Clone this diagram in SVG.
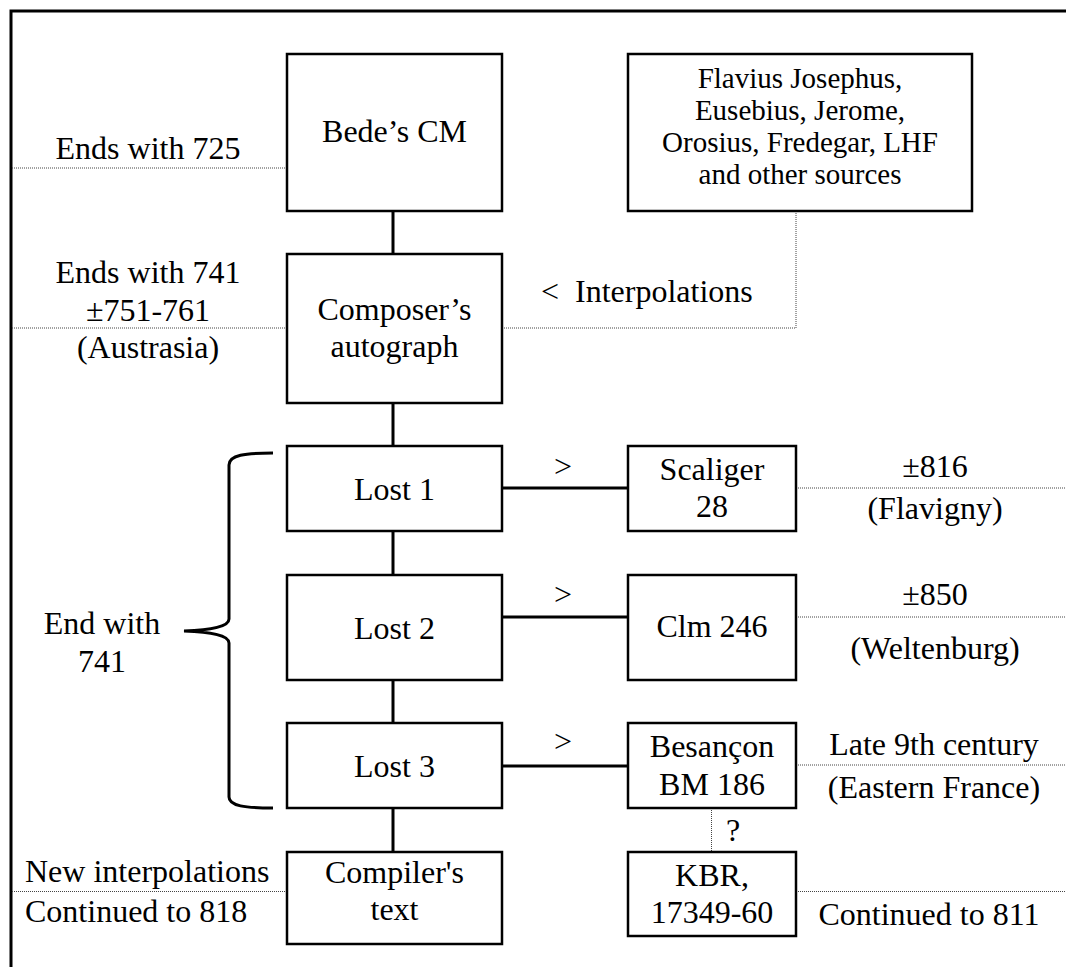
<svg xmlns="http://www.w3.org/2000/svg" width="1066" height="967" viewBox="0 0 1066 967">
<style>
.c{text-anchor:middle}
.box{fill:#fff;stroke:#000;stroke-width:2.5}
.con{stroke:#000;stroke-width:3;fill:none}
.dot{stroke:#444;stroke-width:1;stroke-dasharray:1 1;fill:none}
</style>
<rect width="1066" height="967" fill="#fff"/>
<g id="frame"><path d="M11 967V11H1066" stroke="#000" stroke-width="3" fill="none"/></g>

<g id="connectors">
<path class="con" d="M393 211V254M393 403V446M393 531V575M393 680V723M393 808V852"/>
<path class="con" d="M502 488H628M502 617H628M502 766H628"/>
<path class="dot" d="M12 168H287M12 328H287M502 328H796V211M12 891.5H287"/>
<path class="dot" d="M796 488H1066M796 617H1066M796 765H1066M796 891.5H1066M711.5 808V852"/>
<path class="con" stroke-width="2" d="M273 453C245 453 229 455 229 465V619C229 627 210 630 184 631C210 632 229 635 229 643V797C229 806 245 808 273 808"/>
</g>

<g font-family="Liberation Serif, Times New Roman, serif" font-size="32" fill="#000">
<g id="bede"><rect class="box" x="287" y="54" width="215" height="157"/><text class="c" x="394.5" y="142">Bede’s CM</text></g>
<g id="sources"><rect class="box" x="628" y="54" width="344" height="157"/>
<text class="c" font-size="29"><tspan x="800" y="88">Flavius Josephus,</tspan><tspan x="800" y="120">Eusebius, Jerome,</tspan><tspan x="800" y="152">Orosius, Fredegar, LHF</tspan><tspan x="800" y="184">and other sources</tspan></text></g>
<g id="composer"><rect class="box" x="287" y="254" width="215" height="149"/><text class="c"><tspan x="394.5" y="320">Composer’s</tspan><tspan x="394.5" y="357">autograph</tspan></text></g>
<g id="lost1"><rect class="box" x="287" y="446" width="215" height="85"/><text class="c" x="394.5" y="500">Lost 1</text></g>
<g id="lost2"><rect class="box" x="287" y="575" width="215" height="105"/><text class="c" x="394.5" y="639">Lost 2</text></g>
<g id="lost3"><rect class="box" x="287" y="723" width="215" height="85"/><text class="c" x="394.5" y="777">Lost 3</text></g>
<g id="compiler"><rect class="box" x="287" y="852" width="215" height="92"/><text class="c"><tspan x="394.5" y="883">Compiler's</tspan><tspan x="394.5" y="920">text</tspan></text></g>
<g id="scaliger"><rect class="box" x="628" y="446" width="168" height="85"/><text class="c"><tspan x="712" y="480">Scaliger</tspan><tspan x="712" y="517">28</tspan></text></g>
<g id="clm"><rect class="box" x="628" y="575" width="168" height="105"/><text class="c" x="712" y="637">Clm 246</text></g>
<g id="besancon"><rect class="box" x="628" y="723" width="168" height="85"/><text class="c"><tspan x="712" y="757">Besançon</tspan><tspan x="712" y="795">BM 186</tspan></text></g>
<g id="kbr"><rect class="box" x="628" y="852" width="168" height="84"/><text class="c"><tspan x="712" y="886">KBR,</tspan><tspan x="712" y="923">17349-60</tspan></text></g>

<g id="labels">
<text class="c" x="148" y="159">Ends with 725</text>
<text class="c"><tspan x="148" y="283">Ends with 741</tspan><tspan x="148" y="321">±751-761</tspan><tspan x="148" y="358">(Austrasia)</tspan></text>
<text x="541" y="302">&lt;</text><text x="575" y="302">Interpolations</text>
<text class="c"><tspan x="102" y="634">End with</tspan><tspan x="102" y="672">741</tspan></text>
<text x="25" y="882">New interpolations</text>
<text x="25" y="922">Continued to 818</text>
<text class="c" x="563" y="477">&gt;</text>
<text class="c" x="563" y="605">&gt;</text>
<text class="c" x="563" y="752">&gt;</text>
<text class="c"><tspan x="935" y="477">±816</tspan><tspan x="935" y="519">(Flavigny)</tspan></text>
<text class="c"><tspan x="935" y="605">±850</tspan><tspan x="935" y="659">(Weltenburg)</tspan></text>
<text class="c"><tspan x="934" y="755">Late 9th century</tspan><tspan x="934" y="798">(Eastern France)</tspan></text>
<text class="c" x="733" y="841">?</text>
<text class="c" x="929" y="925">Continued to 811</text>
</g>
</g>
</svg>
